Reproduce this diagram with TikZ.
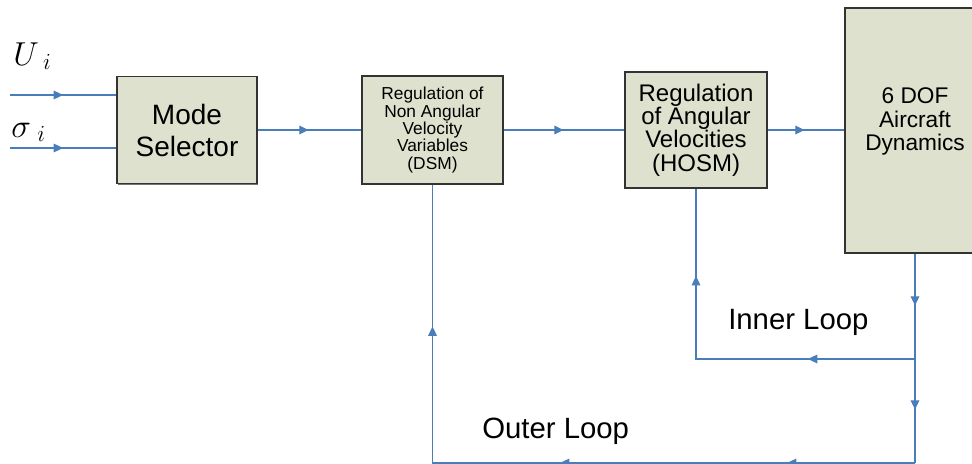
\documentclass[tikz,border=0pt]{standalone}
\usepackage{fontspec}
\setmainfont{Liberation Sans}
\usetikzlibrary{arrows.meta,decorations.markings,shadows}
\definecolor{flowblue}{HTML}{4A7EBB}
\definecolor{boxfill}{HTML}{DDE1CD}
\tikzset{
  box/.style={draw=black!80, fill=boxfill, line width=0.9pt, inner sep=0pt, align=center,
    drop shadow={shadow xshift=0.9pt, shadow yshift=-0.9pt, fill=black!55, opacity=1}},
  flow/.style={draw=flowblue, line width=0.9pt},
  tipat/.style={postaction={decorate,decoration={markings,
     mark=at position #1 with {\arrow{Triangle[length=7pt,width=6.5pt]}}}}},
  looplabel/.style={anchor=base west, inner sep=0pt, font=\fontsize{22}{24}\selectfont}
}
\begin{document}
\begin{tikzpicture}[x=0.75pt,y=-0.75pt]
\useasboundingbox (0,0) rectangle (972,464);

\node[box, minimum width=105pt, minimum height=80pt, font=\fontsize{21}{24}\selectfont] (mode) at (187,130) {Mode\\Selector};
\node[box, minimum width=105.75pt, minimum height=81pt, font=\fontsize{13}{13.1}\selectfont] (dsm) at (432.5,130) {Regulation of\\Non Angular\\Velocity\\Variables\\(DSM)};
\node[box, minimum width=106.5pt, minimum height=87pt, font=\fontsize{18}{17.6}\selectfont] (hosm) at (696,130) {Regulation\\of Angular\\Velocities\\(HOSM)};
\node[box, minimum width=105pt, minimum height=183.75pt, text depth=17pt, font=\fontsize{17}{17.5}\selectfont] (dof) at (915,130.5) {6 DOF\\Aircraft\\Dynamics};

\node[anchor=base west, inner sep=0pt, font=\fontsize{26}{28}\selectfont] (ulab) at (13,65) {$U_{\,\,i}$};
\node[anchor=base west, inner sep=0pt, font=\fontsize{26}{28}\selectfont] (slab) at (11,137) {$\sigma_{\,\,i}$};

\coordinate (u0) at (10,95);
\coordinate (s0) at (10,148);
\coordinate (j1) at (915,359);
\coordinate (j2) at (915,463);

\draw[flow, tipat=39.75pt] (u0) -- (u0 -| mode.west);
\draw[flow, tipat=39.75pt] (s0) -- (s0 -| mode.west);
\draw[flow, tipat=38.25pt] (mode) -- (dsm);
\draw[flow, tipat=45pt] (dsm) -- (hosm);
\draw[flow, tipat=27.75pt] (hosm) -- (hosm -| dof.west);
\draw[flow, tipat=39pt, tipat=117pt] (dof.south) -- (j2);
\draw[flow, tipat=80.25pt, tipat=226.5pt] (j1) -- (j1 -| hosm.south) -- (hosm.south);
\draw[flow, tipat=96pt, tipat=266.25pt, tipat=464.25pt] (j2) -- (j2 -| dsm.south) -- (dsm.south);

\node[looplabel] (inner) at (728,329) {Inner Loop};
\node[looplabel] (outer) at (482,438) {Outer Loop};
\end{tikzpicture}
\end{document}
